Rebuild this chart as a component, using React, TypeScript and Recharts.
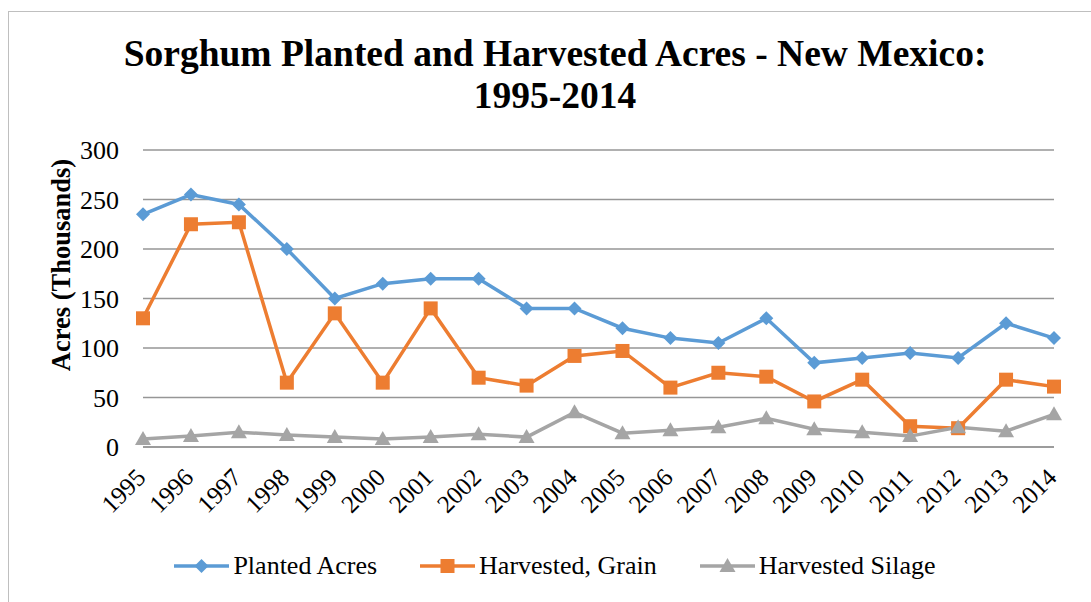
import { CartesianGrid, Legend, Line, LineChart, XAxis, YAxis } from 'recharts'

const YEARS = [
  '1995', '1996', '1997', '1998', '1999', '2000', '2001', '2002', '2003', '2004',
  '2005', '2006', '2007', '2008', '2009', '2010', '2011', '2012', '2013', '2014',
]
const PLANTED = [235, 255, 245, 200, 150, 165, 170, 170, 140, 140, 120, 110, 105, 130, 85, 90, 95, 90, 125, 110]
const GRAIN = [130, 225, 227, 65, 135, 65, 140, 70, 62, 92, 97, 60, 75, 71, 46, 68, 21, 19, 68, 61]
const SILAGE = [8, 11, 15, 12, 10, 8, 10, 13, 10, 35, 14, 17, 20, 29, 18, 15, 11, 20, 16, 33]
const Y_TICKS = [0, 50, 100, 150, 200, 250, 300]

const FONT = '"Liberation Serif", "Times New Roman", serif'
const GRID = '#969696'

type Shape = 'diamond' | 'square' | 'triangle'

const SERIES: Array<{ key: string; name: string; color: string; shape: Shape }> = [
  { key: 'planted', name: 'Planted Acres', color: '#5B9BD5', shape: 'diamond' },
  { key: 'grain', name: 'Harvested, Grain', color: '#ED7D31', shape: 'square' },
  { key: 'silage', name: 'Harvested Silage', color: '#A5A5A5', shape: 'triangle' },
]

const data = YEARS.map((year, i) => ({
  year,
  planted: PLANTED[i],
  grain: GRAIN[i],
  silage: SILAGE[i],
}))

function marker(shape: Shape, cx: number, cy: number, color: string, key?: string | number) {
  if (shape === 'diamond') {
    return (
      <polygon
        key={key}
        points={`${cx},${cy - 7} ${cx + 7},${cy} ${cx},${cy + 7} ${cx - 7},${cy}`}
        fill={color}
      />
    )
  }
  if (shape === 'square') {
    return <rect key={key} x={cx - 7} y={cy - 7} width={14} height={14} fill={color} />
  }
  return (
    <polygon
      key={key}
      points={`${cx},${cy - 8} ${cx + 8},${cy + 6} ${cx - 8},${cy + 6}`}
      fill={color}
    />
  )
}

function makeDot(shape: Shape, color: string) {
  return (props: any) => {
    const { cx, cy, index } = props
    if (cx == null || cy == null) return <g key={index} />
    return marker(shape, cx, cy, color, index)
  }
}

function YearTick(props: any) {
  const { x, y, payload } = props
  const ax = x + 4
  const ay = y + 32
  return (
    <text
      x={ax}
      y={ay}
      textAnchor="end"
      transform={`rotate(-45, ${ax}, ${ay})`}
      fontFamily={FONT}
      fontSize={25}
      fill="#000"
    >
      {payload.value}
    </text>
  )
}

function LegendContent() {
  return (
    <div
      style={{
        display: 'flex',
        justifyContent: 'center',
        alignItems: 'center',
        height: 30,
        paddingLeft: 10,
        gap: 43,
        fontFamily: FONT,
        fontSize: 26,
        color: '#000',
      }}
    >
      {SERIES.map((s) => (
        <div key={s.key} style={{ display: 'flex', alignItems: 'center' }}>
          <svg width={55} height={20} style={{ display: 'block' }}>
            <line x1={0} y1={10} x2={55} y2={10} stroke={s.color} strokeWidth={3.5} />
            {marker(s.shape, 27.5, 10, s.color)}
          </svg>
          <span style={{ marginLeft: 4, whiteSpace: 'nowrap' }}>{s.name}</span>
        </div>
      ))}
    </div>
  )
}

function App() {
  return (
    <div>
      <div
        style={{
          position: 'absolute',
          left: 8,
          top: 11,
          width: 1083,
          height: 591,
          boxSizing: 'border-box',
          borderTop: '1px solid #bfbfbf',
          borderLeft: '1px solid #bfbfbf',
          background: '#fff',
        }}
      >
        <LineChart
          width={1082}
          height={590}
          data={data}
          margin={{ top: 138, right: 37, bottom: 21, left: 74 }}
        >
          <CartesianGrid vertical={false} stroke={GRID} strokeWidth={1.3} />
          <XAxis
            dataKey="year"
            scale="point"
            padding={{ left: 0, right: 0 }}
            interval={0}
            height={104}
            tickLine={false}
            tickSize={0}
            tickMargin={0}
            axisLine={{ stroke: GRID, strokeWidth: 1.3 }}
            tick={<YearTick />}
          />
          <YAxis
            domain={[0, 300]}
            ticks={Y_TICKS}
            width={60}
            axisLine={false}
            tickLine={false}
            tickSize={0}
            tickMargin={24}
            tick={{ fontFamily: FONT, fontSize: 26, fill: '#000' }}
          />
          <Legend
            verticalAlign="bottom"
            height={30}
            wrapperStyle={{ left: 0, width: 1082 }}
            content={<LegendContent />}
          />
          {SERIES.map((s) => (
            <Line
              key={s.key}
              dataKey={s.key}
              name={s.name}
              type="linear"
              stroke={s.color}
              strokeWidth={3.5}
              dot={makeDot(s.shape, s.color)}
              activeDot={false}
              isAnimationActive={false}
            />
          ))}
        </LineChart>
      </div>
      <div
        style={{
          position: 'absolute',
          left: 55,
          top: 33,
          width: 1000,
          textAlign: 'center',
          fontFamily: FONT,
          fontWeight: 'bold',
          fontSize: 37.5,
          lineHeight: '42px',
          color: '#000',
        }}
      >
        Sorghum Planted and Harvested Acres - New Mexico:
        <br />
        1995-2014
      </div>
      <div
        style={{
          position: 'absolute',
          left: 61,
          top: 265,
          transform: 'translate(-50%, -50%) rotate(-90deg)',
          fontFamily: FONT,
          fontWeight: 'bold',
          fontSize: 26.5,
          whiteSpace: 'nowrap',
          color: '#000',
        }}
      >
        Acres (Thousands)
      </div>
    </div>
  )
}

export default App
